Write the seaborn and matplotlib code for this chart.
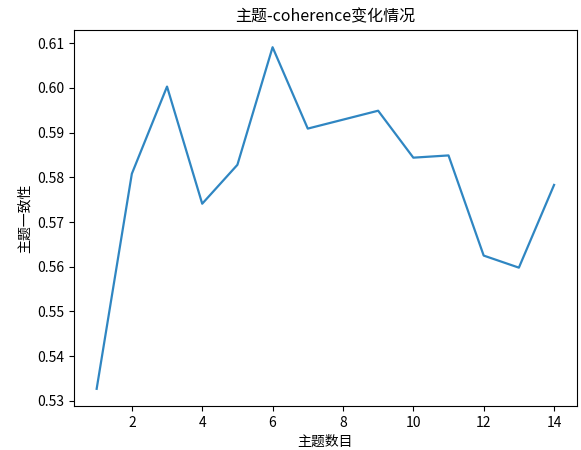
#!/usr/bin/env python3

import seaborn as sns
import matplotlib.pyplot as plt
import pandas

# Topic count vs. coherence score
topic_nums = [1, 2, 3, 4, 5, 6, 7, 8, 9, 10, 11, 12, 13, 14]
coherence = [0.5327, 0.5808, 0.6003, 0.5741, 0.5828, 0.6091, 0.5909, 0.5929,
             0.5949, 0.5844, 0.5849, 0.5625, 0.5598, 0.5783]


def main():
    plt.rcParams["font.family"] = ["Noto Sans CJK SC", "DejaVu Sans"]
    plt.rcParams["axes.unicode_minus"] = False

    df = pandas.DataFrame({"topics": topic_nums, "coherence": coherence})

    fig = plt.figure(figsize=(5.81, 4.5), dpi=100)
    ax = fig.add_axes([0.127, 0.098, 0.866, 0.835])
    sns.lineplot(data=df, x="topics", y="coherence", ax=ax, color="#2f86c2", linewidth=1.6)

    ax.set_title("主题-coherence变化情况", fontsize=11.5)
    ax.set_xlabel("主题数目", fontsize=10)
    ax.set_ylabel("主题一致性", fontsize=10)
    ax.set_xticks([2, 4, 6, 8, 10, 12, 14])
    ax.set_yticks([0.53, 0.54, 0.55, 0.56, 0.57, 0.58, 0.59, 0.60, 0.61])
    ax.set_yticklabels(["0.53", "0.54", "0.55", "0.56", "0.57", "0.58", "0.59", "0.60", "0.61"])

    fig.savefig("out.png", dpi=100)
    plt.close(fig)


if __name__ == "__main__":
    main()
